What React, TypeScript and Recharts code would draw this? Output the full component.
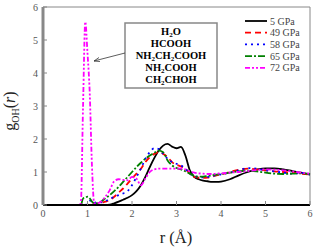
import { LineChart, Line, XAxis, YAxis, ReferenceLine } from "recharts";

// r grid (Å) shared by all curves; finer around the first peak
const rValues = [
  0, 0.5, 0.8, 0.85, 0.9, 0.95, 1.0, 1.05, 1.1, 1.15,
  1.2, 1.3, 1.4, 1.5, 1.6, 1.7, 1.8, 1.9, 2.0, 2.1,
  2.2, 2.3, 2.4, 2.5, 2.6, 2.7, 2.8, 2.9, 3.0, 3.1,
  3.2, 3.3, 3.4, 3.5, 3.6, 3.7, 3.8, 3.9, 4.0, 4.2,
  4.4, 4.6, 4.8, 5.0, 5.2, 5.4, 5.6, 5.8, 6.0,
];

const g5 = [
  0, 0, 0, 0, 0, 0, 0, 0, 0, 0,
  0, 0, 0, 0.01, 0.05, 0.1, 0.16, 0.22, 0.3, 0.42,
  0.6, 0.85, 1.15, 1.42, 1.65, 1.8, 1.85, 1.77, 1.72, 1.76,
  1.5, 1.05, 0.85, 0.78, 0.74, 0.72, 0.7, 0.7, 0.71, 0.78,
  0.9, 1.0, 1.07, 1.11, 1.11, 1.08, 1.03, 0.98, 0.92,
];

const g49 = [
  0, 0, 0, 0, 0, 0, 0, 0.02, 0.05, 0.05,
  0.04, 0.06, 0.1, 0.15, 0.25, 0.38, 0.5, 0.65, 0.8, 0.95,
  1.1, 1.3, 1.45, 1.55, 1.6, 1.55, 1.45, 1.3, 1.22, 1.17,
  1.1, 0.95, 0.85, 0.83, 0.82, 0.83, 0.86, 0.9, 0.93, 1.0,
  1.07, 1.1, 1.08, 1.05, 1.02, 1.0, 0.98, 0.95, 0.92,
];

const g58 = [
  0, 0, 0, 0, 0, 0, 0.05, 0.12, 0.15, 0.1,
  0.06, 0.08, 0.12, 0.18, 0.25, 0.3, 0.35, 0.42, 0.6, 0.85,
  1.1, 1.4, 1.6, 1.72, 1.7, 1.55, 1.4, 1.3, 1.25, 1.2,
  1.1, 0.95, 0.88, 0.85, 0.84, 0.85, 0.88, 0.9, 0.93, 0.98,
  1.05, 1.12, 1.1, 1.05, 1.02, 0.98, 0.95, 0.97, 0.93,
];

const g65 = [
  0, 0, 0, 0, 0.2, 0.22, 0.25, 0.2, 0.1, 0.05,
  0.05, 0.1, 0.2, 0.3, 0.42, 0.55, 0.7, 0.85, 1.0, 1.15,
  1.28, 1.4, 1.5, 1.58, 1.65, 1.6, 1.35, 1.2, 1.12, 1.08,
  1.02, 0.95, 0.88, 0.86, 0.86, 0.88, 0.9, 0.92, 0.94, 0.98,
  1.02, 1.04, 1.02, 0.98, 0.95, 0.94, 0.95, 0.96, 0.94,
];

const g72 = [
  0, 0, 0, 0.05, 3.0, 5.55, 4.6, 3.4, 1.2, 0.06,
  0.05, 0.1, 0.25, 0.45, 0.72, 0.78, 0.76, 0.75, 0.85, 0.8,
  0.6, 0.8, 1.0, 1.08, 1.1, 1.1, 1.1, 1.1, 1.1, 1.1,
  1.08, 1.02, 0.98, 0.96, 0.95, 0.94, 0.94, 0.95, 0.96, 0.98,
  1.0, 1.03, 1.06, 1.08, 1.07, 1.05, 1.02, 0.98, 0.95,
];

const seriesNames = ["5 GPa", "49 GPa", "58 GPa", "65 GPa", "72 GPa"];
const seriesKeys = ["p5", "p49", "p58", "p65", "p72"];
const seriesColors = ["#000000", "#ff0000", "#0000ff", "#008000", "#ff00ff"];
const seriesDash = ["", "6 4", "2 4", "7 2 2 2", "5 2 2 2 2 2"];

const xTicks = [0, 1, 2, 3, 4, 5, 6];
const yTicks = [0, 1, 2, 3, 4, 5, 6];

const species = ["H2O", "HCOOH", "NH2CH2COOH", "NH2COOH", "CH2CHOH"];

const data = rValues.map((r, i) => ({
  r,
  p5: g5[i],
  p49: g49[i],
  p58: g58[i],
  p65: g65[i],
  p72: g72[i],
}));

const FONT = "'Liberation Serif', 'Times New Roman', serif";

function Formula({ text, x, y }: { text: string; x: number; y: number }) {
  const parts = text.split(/(\d+)/).filter((p) => p.length > 0);
  return (
    <text x={x} y={y} textAnchor="middle" fontFamily={FONT} fontWeight="bold" fontSize={10.5} fill="#000">
      {parts.map((p, i) =>
        /\d/.test(p) ? (
          <tspan key={i} fontSize={7} dy={2}>
            {p}
          </tspan>
        ) : (
          <tspan key={i} dy={i > 0 && /\d/.test(parts[i - 1]) ? -2 : 0}>
            {p}
          </tspan>
        )
      )}
    </text>
  );
}

export default function App() {
  return (
    <div style={{ position: "absolute", left: 0, top: 0, width: 332, height: 249, background: "#fff" }}>
      <LineChart
        width={332}
        height={249}
        data={data}
        margin={{ top: 7, right: 22, left: 0, bottom: 0 }}
      >
        <XAxis
          dataKey="r"
          type="number"
          domain={[0, 6]}
          ticks={xTicks}
          height={44}
          axisLine={{ stroke: "#000", strokeWidth: 2 }}
          tickLine={{ stroke: "#888" }}
          tickSize={-4}
          tickMargin={9}
          tick={{ fontSize: 10, fill: "#555", fontFamily: FONT }}
        />
        <YAxis
          type="number"
          domain={[0, 6]}
          ticks={yTicks}
          width={43}
          axisLine={{ stroke: "#888", strokeWidth: 3 }}
          tickLine={{ stroke: "#888" }}
          tickSize={-4}
          tickMargin={9}
          tick={{ fontSize: 10, fill: "#555", fontFamily: FONT }}
        />
        <ReferenceLine y={6} stroke="#888" strokeWidth={1} />
        <ReferenceLine x={6} stroke="#888" strokeWidth={1} />
        {seriesKeys.map((k, i) => (
          <Line
            key={k}
            dataKey={k}
            name={seriesNames[i]}
            type="monotone"
            stroke={seriesColors[i]}
            strokeWidth={1.8}
            strokeDasharray={seriesDash[i] || undefined}
            dot={false}
            isAnimationActive={false}
          />
        ))}
      </LineChart>
      <svg
        width={332}
        height={249}
        style={{ position: "absolute", left: 0, top: 0, pointerEvents: "none" }}
      >
        {/* legend */}
        {seriesNames.map((n, i) => (
          <g key={n}>
            <line
              x1={245}
              x2={267}
              y1={21 + i * 11.7}
              y2={21 + i * 11.7}
              stroke={seriesColors[i]}
              strokeWidth={1.8}
              strokeDasharray={seriesDash[i] || undefined}
            />
            <text x={270} y={24.5 + i * 11.7} fontFamily={FONT} fontSize={10} fill="#444">
              {n}
            </text>
          </g>
        ))}
        {/* annotation box */}
        <rect x={125} y={23} width={92} height={65} fill="#fff" stroke="#888" strokeWidth={1.5} />
        {species.map((s, i) => (
          <Formula key={s} text={s} x={171} y={35 + i * 12} />
        ))}
        <line x1={125} y1={53} x2={94} y2={61} stroke="#333" strokeWidth={0.8} />
        <polyline points="99,57.5 94,61 100,61.5" fill="none" stroke="#333" strokeWidth={0.8} />
        {/* axis titles */}
        <text x={176} y={243} textAnchor="middle" fontFamily={FONT} fontSize={16.5} fill="#222">
          r (Å)
        </text>
        <text
          transform="translate(15,111) rotate(-90)"
          textAnchor="middle"
          fontFamily={FONT}
          fontSize={16}
          fill="#222"
        >
          g
          <tspan fontSize={10} dy={4}>OH</tspan>
          <tspan dy={-4}>(</tspan>
          <tspan fontStyle="italic">r</tspan>)
        </text>
      </svg>
    </div>
  );
}
